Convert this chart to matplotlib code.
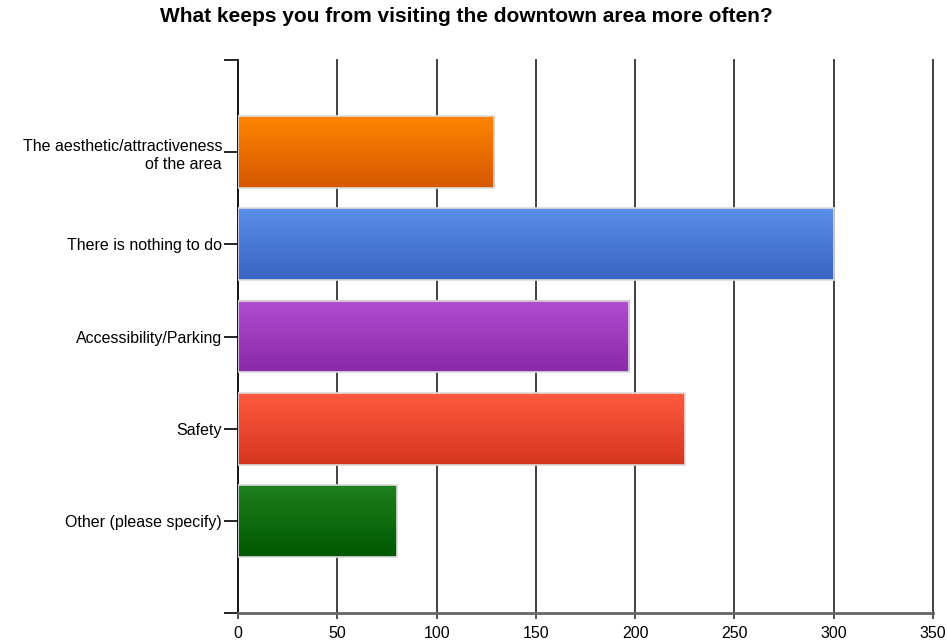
import numpy as np
import matplotlib.pyplot as plt
from matplotlib.colors import LinearSegmentedColormap

plt.rcParams['font.family'] = ['Liberation Sans', 'DejaVu Sans']

title = 'What keeps you from visiting the downtown area more often?'
categories = ['The aesthetic/attractiveness\nof the area',
              'There is nothing to do',
              'Accessibility/Parking',
              'Safety',
              'Other (please specify)']
responses = [129, 300, 197, 225, 80]
# top and bottom colour of each bar's gradient
bar_top = ['#ff8400', '#5a8ee8', '#b24cd0', '#ff5a40', '#1e801e']
bar_bottom = ['#d65800', '#3a64c2', '#8a2aa6', '#d4361c', '#005800']
x_ticks = [0, 50, 100, 150, 200, 250, 300, 350]

fig = plt.figure(figsize=(9.48, 6.42), dpi=100)
ax = fig.add_axes([238/948, 1-613/642, (933-238)/948, (613-60)/642])

ax.set_xlim(0, 350)
ax.set_ylim(5, -1)

bh = 0.78
grad = np.linspace(0, 1, 64).reshape(-1, 1)
for i, (val, c0, c1) in enumerate(zip(responses, bar_top, bar_bottom)):
    cmap = LinearSegmentedColormap.from_list('g%d' % i, [c0, c1])
    ax.imshow(grad, cmap=cmap, aspect='auto', interpolation='bilinear',
              extent=[0, val, i + bh/2, i - bh/2], zorder=3)
    ax.add_patch(plt.Rectangle((0, i - bh/2), val, bh, fill=False,
                               ec='#dcdcdc', lw=1.2, zorder=4))

# vertical grid lines
for t in x_ticks[1:]:
    ax.axvline(t, color='#333333', lw=1.3, zorder=1, clip_on=False)

ax.set_xticks(x_ticks)
ax.tick_params(axis='x', length=4, width=1.2, color='#333333', pad=5,
               labelsize=11.5)
ax.set_yticks([-1, 0, 1, 2, 3, 4, 5])
ax.set_yticklabels([''] + categories + [''], fontsize=11.5, linespacing=1.25)
ax.tick_params(axis='y', length=10, width=1.2, color='black', pad=1.5)

for s in ['top', 'right']:
    ax.spines[s].set_visible(False)
ax.spines['left'].set_color('black')
ax.spines['left'].set_linewidth(1.3)
ax.spines['bottom'].set_color('#666666')
ax.spines['bottom'].set_linewidth(2)
ax.spines['bottom'].set_zorder(5)

fig.text(466/948, 1-17/642, title, ha='center', va='center',
         fontsize=15, fontweight='bold')

fig.savefig('out.png', dpi=100)
